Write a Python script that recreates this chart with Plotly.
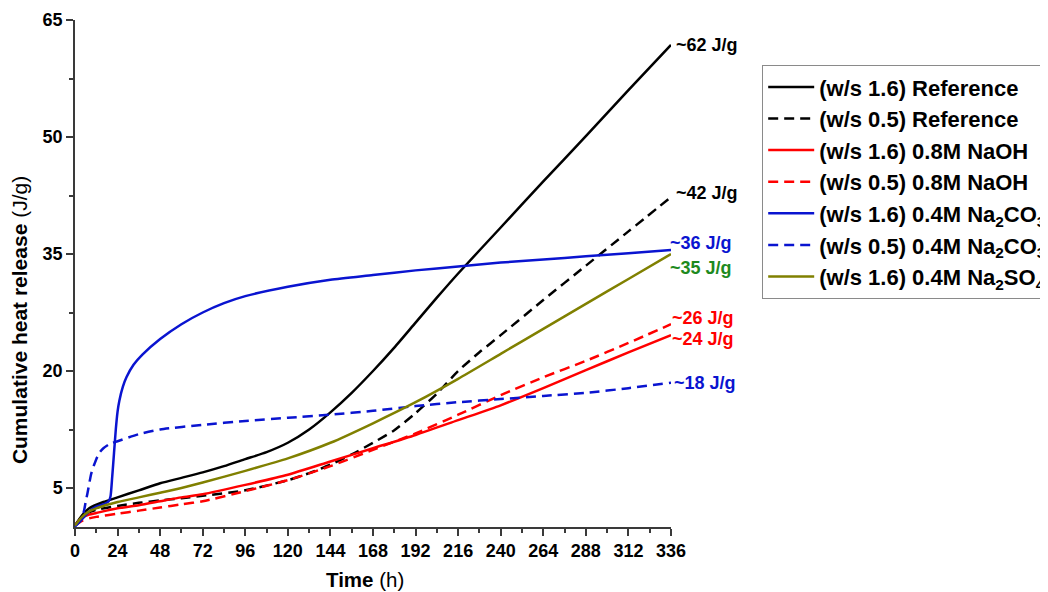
import plotly.graph_objects as go

# ---- data (hours, J/g) ----
t_ref16 = [0, 4, 8, 16, 24, 36, 48, 60, 72, 84, 96, 108, 120, 132, 144, 156, 168, 180, 192, 204, 216, 240, 264, 288, 312, 336]
v_ref16 = [0.2, 1.5, 2.4, 3.2, 3.8, 4.7, 5.6, 6.3, 7.0, 7.8, 8.7, 9.6, 10.8, 12.5, 14.7, 17.2, 20.0, 23.0, 26.2, 29.4, 32.5, 38.4, 44.3, 50.1, 56.0, 61.8]

t_ref05 = [0, 4, 8, 12, 24, 36, 48, 60, 72, 96, 120, 132, 144, 156, 168, 180, 192, 204, 216, 228, 240, 264, 288, 312, 336]
v_ref05 = [0.2, 1.2, 1.9, 2.2, 2.7, 3.1, 3.4, 3.7, 4.0, 4.7, 6.0, 6.9, 8.0, 9.3, 10.8, 12.4, 14.6, 17.1, 20.0, 22.4, 24.6, 29.1, 33.5, 37.9, 42.3]

t_naoh16 = [0, 4, 8, 12, 24, 36, 48, 60, 72, 96, 120, 144, 168, 192, 216, 240, 264, 288, 312, 336]
v_naoh16 = [0.2, 1.2, 1.6, 1.8, 2.4, 2.8, 3.3, 3.8, 4.2, 5.4, 6.7, 8.4, 10.1, 11.8, 13.7, 15.6, 17.8, 20.1, 22.4, 24.6]

t_naoh05 = [0, 4, 8, 12, 24, 36, 48, 60, 72, 96, 120, 144, 168, 192, 216, 240, 264, 288, 312, 336]
v_naoh05 = [0.2, 0.8, 1.1, 1.3, 1.7, 2.1, 2.5, 2.9, 3.3, 4.6, 6.0, 7.8, 9.9, 12.0, 14.4, 16.9, 19.2, 21.3, 23.6, 26.0]

t_co3_16 = [0, 4, 8, 12, 16, 19, 20, 21, 22, 23, 24, 25, 27, 29, 33, 38, 48, 60, 72, 84, 96, 120, 144, 168, 192, 216, 240, 264, 288, 312, 336]
v_co3_16 = [0.1, 1.0, 2.0, 2.6, 2.9, 3.3, 3.9, 6.5, 9.5, 12.5, 14.8, 16.2, 18.0, 19.2, 20.8, 22.1, 24.1, 26.0, 27.5, 28.7, 29.6, 30.8, 31.7, 32.3, 32.9, 33.4, 33.9, 34.3, 34.7, 35.1, 35.5]

t_co3_05 = [0, 3, 5, 6, 7, 8, 9, 10, 11, 12, 14, 16, 20, 24, 36, 48, 72, 96, 120, 144, 168, 192, 216, 240, 264, 288, 312, 336]
v_co3_05 = [0.1, 0.8, 2.0, 3.2, 4.3, 5.5, 6.7, 7.5, 8.1, 8.7, 9.6, 10.1, 10.7, 11.0, 11.9, 12.5, 13.1, 13.6, 14.0, 14.4, 14.9, 15.5, 16.0, 16.4, 16.8, 17.2, 17.8, 18.5]

t_so4_16 = [0, 4, 8, 16, 24, 36, 48, 60, 72, 96, 120, 144, 168, 192, 216, 240, 264, 288, 312, 336]
v_so4_16 = [0.2, 1.3, 2.0, 2.7, 3.2, 3.8, 4.4, 5.0, 5.7, 7.2, 8.8, 10.8, 13.3, 16.0, 19.0, 22.2, 25.4, 28.6, 31.8, 35.0]

names = ["(w/s 1.6) Reference", "(w/s 0.5) Reference",
         "(w/s 1.6) 0.8M NaOH", "(w/s 0.5) 0.8M NaOH",
         "(w/s 1.6) 0.4M Na<sub>2</sub>CO<sub>3</sub>", "(w/s 0.5) 0.4M Na<sub>2</sub>CO<sub>3</sub>",
         "(w/s 1.6) 0.4M Na<sub>2</sub>SO<sub>4</sub>"]
end_labels = ["~62 J/g", "~42 J/g", "~24 J/g", "~26 J/g", "~36 J/g", "~18 J/g", "~35 J/g"]

x_ticks = list(range(0, 337, 24))
y_ticks = [5, 20, 35, 50, 65]

series = [(t_ref16, v_ref16), (t_ref05, v_ref05), (t_naoh16, v_naoh16), (t_naoh05, v_naoh05),
          (t_co3_16, v_co3_16), (t_co3_05, v_co3_05), (t_so4_16, v_so4_16)]
colors = ["#000000", "#000000", "#FF0000", "#FF0000", "#0a14d0", "#0a14d0", "#808000"]
dashes = ["solid", "10px,6px", "solid", "10px,6px", "solid", "10px,6px", "solid"]
label_colors = ["#000000", "#000000", "#FF0000", "#FF0000", "#0a14d0", "#0a14d0", "#1e8a1e"]
label_shift = [0, 4, -4, 6, 7, 0, -14]
label_xshift = [3, 3, -1, -1, -3, 1, -3]

FONT = "Liberation Sans, Arial, sans-serif"

fig = go.Figure()
for (t, v), nm, c, d in zip(series, names, colors, dashes):
    fig.add_trace(go.Scatter(x=t, y=v, mode="lines", name=f"<b>{nm}</b>",
                             line=dict(color=c, width=2.5, dash=d, shape="spline", smoothing=0.6)))

for (t, v), lab, c, ys, xs in zip(series, end_labels, label_colors, label_shift, label_xshift):
    fig.add_annotation(x=t[-1], y=v[-1], text=f"<b>{lab}</b>", showarrow=False,
                       xanchor="left", yanchor="middle", xshift=xs, yshift=ys,
                       font=dict(family=FONT, size=18, color=c))

# axis titles (placed as paper annotations to match the reference's positions)
fig.add_annotation(xref="paper", yref="paper", x=0.487, y=-0.1026, text="<b>Time</b> (h)",
                   showarrow=False, xanchor="center", yanchor="middle",
                   font=dict(family=FONT, size=20.5, color="#000"))
fig.add_annotation(xref="paper", yref="paper", x=-0.094, y=0.408,
                   text="<b>Cumulative heat release</b> (J/g)", textangle=-90,
                   showarrow=False, xanchor="center", yanchor="middle",
                   font=dict(family=FONT, size=21, color="#000"))

axis_col = "#3a3a3a"
tick_font = dict(family=FONT, size=18, color="#000", weight="bold")
fig.update_xaxes(range=[0, 336], tickvals=x_ticks, ticks="outside", ticklen=7, tickwidth=1.5,
                 tickcolor=axis_col, showline=True, linecolor=axis_col, linewidth=1.5,
                 showgrid=False, zeroline=False,
                 minor=dict(dtick=12, tick0=0, ticks="outside", ticklen=4, tickwidth=1.5, tickcolor=axis_col),
                 tickfont=tick_font)
fig.update_yaxes(range=[0, 65], tickvals=y_ticks, ticks="outside", ticklen=7, tickwidth=1.5,
                 tickcolor=axis_col, showline=True, linecolor=axis_col, linewidth=1.5,
                 showgrid=False, zeroline=False,
                 minor=dict(tickvals=[12.5, 27.5, 42.5, 57.5], ticks="outside", ticklen=4, tickwidth=1.5, tickcolor=axis_col),
                 tickfont=tick_font)

fig.update_layout(
    width=1040, height=584,
    margin=dict(l=67, r=377, t=12, b=65, autoexpand=False),
    plot_bgcolor="white", paper_bgcolor="white",
    font=dict(family=FONT, color="#000"),
    legend=dict(x=1.153, y=0.911, xanchor="left", yanchor="top",
                bgcolor="white", bordercolor="#8a8a8a", borderwidth=1,
                font=dict(family=FONT, size=22, color="#000"),
                tracegroupgap=0, itemwidth=46),
    showlegend=True,
)

fig.write_html("out.html")
